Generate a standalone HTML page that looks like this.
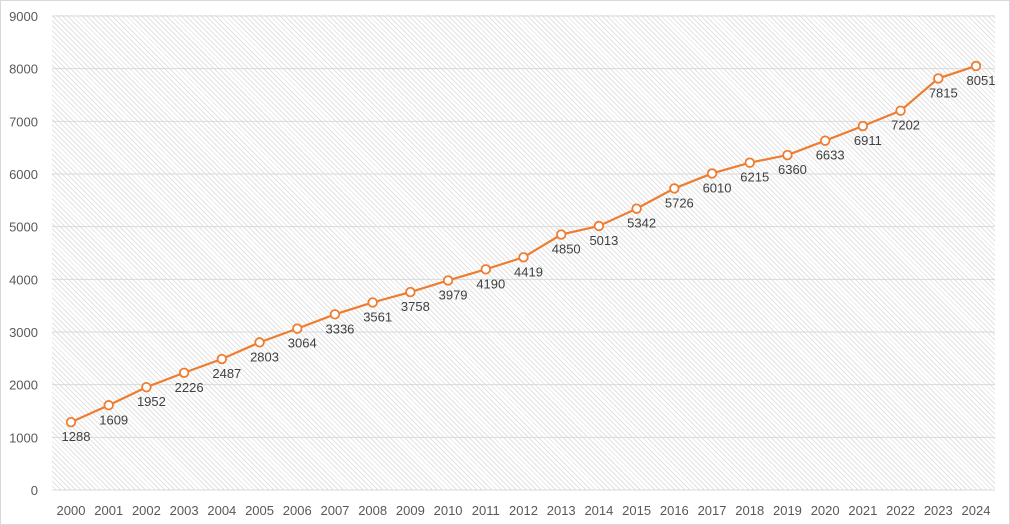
<!DOCTYPE html>
<html><head><meta charset="utf-8"><style>
html,body{margin:0;padding:0;background:#fff;}
body{width:1010px;height:525px;overflow:hidden;position:relative;font-family:"Liberation Sans",Arial,sans-serif;}
.plot{position:absolute;left:52px;top:15px;width:943px;height:475px;
background:repeating-linear-gradient(45deg,#fff 0px,#fff 2.5px,#e2e2e2 2.5px,#e2e2e2 3.5px);}
.frame{position:absolute;left:0;top:0;width:1008px;height:523px;border:1px solid #d9d9d9;}
svg{position:absolute;left:0;top:0;}
</style></head><body>
<div class="frame"></div>
<div class="plot"></div>
<svg id="s" width="1010" height="525" xmlns="http://www.w3.org/2000/svg"></svg>
<script>
var d=[1288,1609,1952,2226,2487,2803,3064,3336,3561,3758,3979,4190,4419,4850,5013,5342,5726,6010,6215,6360,6633,6911,7202,7815,8051];
var s='';
function Y(v){return 490-v*474/9000;}
function X(i){return 71+i*905/24;}
for(var k=0;k<=9;k++){var y=Y(k*1000);
s+='<line x1="52" x2="995" y1="'+y+'" y2="'+y+'" stroke="#d9d9d9" stroke-width="1"/>';
s+='<text x="38" y="'+(y+5)+'" text-anchor="end" font-size="13" fill="#595959">'+(k*1000)+'</text>';}
var p='';
for(var i=0;i<d.length;i++){p+=(i?' L':'M')+X(i)+' '+Y(d[i]);
s+='<text x="'+X(i)+'" y="515" text-anchor="middle" font-size="13" fill="#595959">'+(2000+i)+'</text>';}
s+='<path d="'+p+'" fill="none" stroke="#ed7d31" stroke-width="2.2"/>';
for(var i=0;i<d.length;i++){
s+='<circle cx="'+X(i)+'" cy="'+Y(d[i])+'" r="4.3" fill="#fff" stroke="#ed7d31" stroke-width="1.8"/>';
s+='<text x="'+(X(i)+5)+'" y="'+(Y(d[i])+19)+'" text-anchor="middle" font-size="13" fill="#404040">'+d[i]+'</text>';}
document.getElementById('s').innerHTML=s;
</script>
</body></html>
